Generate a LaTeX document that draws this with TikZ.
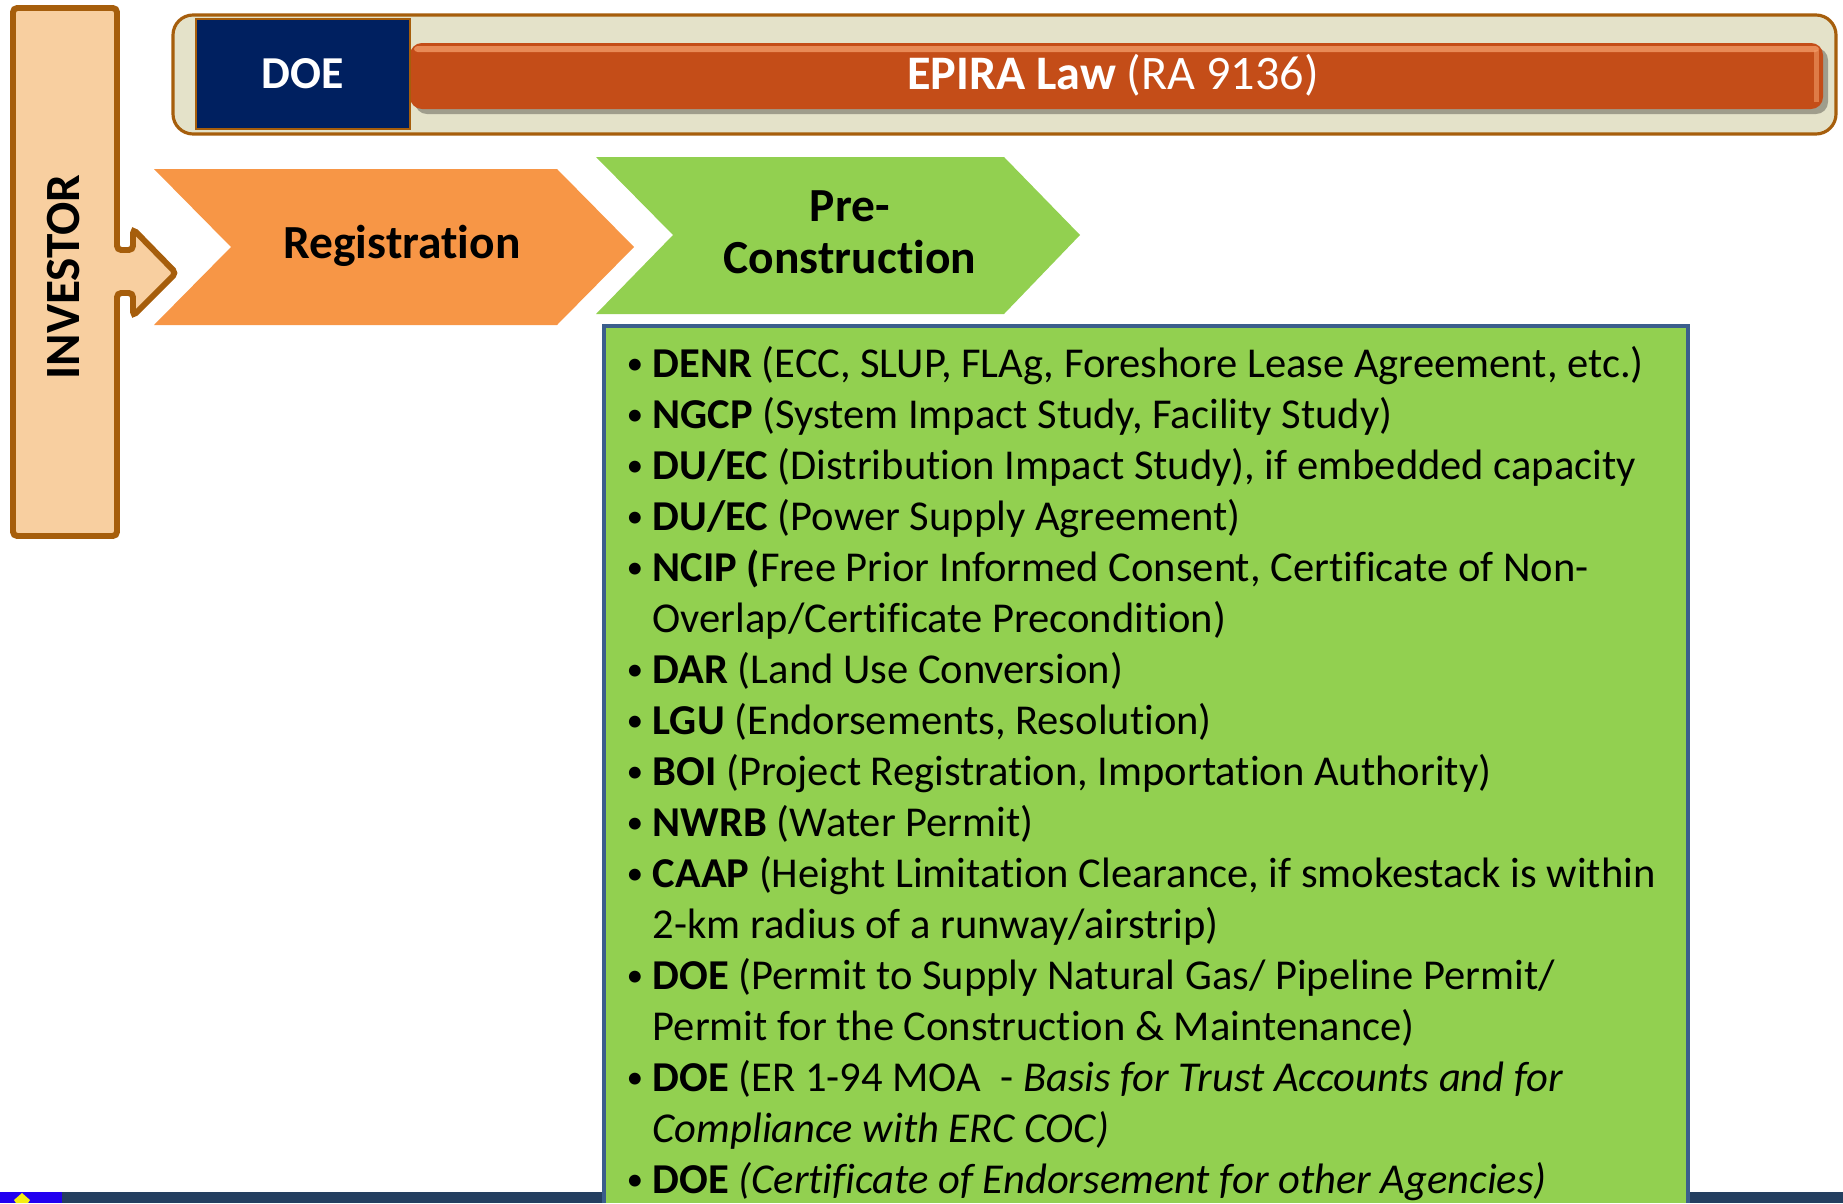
\documentclass[tikz,border=0pt]{standalone}
\usepackage{fontspec}
\setmainfont{Carlito}[RawFeature={-liga;-clig;-calt}]
\definecolor{brownline}{HTML}{A65E0C}
\definecolor{peach}{HTML}{F8CFA0}
\definecolor{beige}{HTML}{E4E2C9}
\definecolor{navy}{HTML}{002060}
\definecolor{rust}{HTML}{C44D18}
\definecolor{rustlight}{HTML}{F29A66}
\definecolor{orangestep}{HTML}{F79646}
\definecolor{greenstep}{HTML}{92D050}
\definecolor{boxblue}{HTML}{3B5E8C}
\definecolor{barnavy}{HTML}{243F60}
\definecolor{logoblue}{HTML}{2200F0}
\definecolor{logoyellow}{HTML}{F5EE10}
\begin{document}
\begin{tikzpicture}[x=0.01cm,y=-0.01cm,
    investor/.style={draw=brownline,fill=peach,line width=1.7pt,rounded corners=1.2pt},
    steptext/.style={font=\fontsize{13.5}{14.8}\selectfont\bfseries,align=center,inner sep=0pt},
    listline/.style={anchor=base west,inner sep=0pt,font=\fontsize{12.1}{14.5}\selectfont},
    dot/.style={anchor=base west,inner sep=0pt,font=\fontsize{9.5}{10}\selectfont}]
    \useasboundingbox (0,0) rectangle (1843,1203);

    % bottom strip
    \fill[barnavy] (0,1192) rectangle (1843,1203);
    \fill[logoblue] (0,1192) rectangle (62,1203);
    \fill[logoyellow] (22,1193) -- (30,1200) -- (28,1203) -- (16,1203) -- (14,1200) -- cycle;

    % investor column with its arrow
    \draw[investor] (13,8) -- (117,8) -- (117,250) -- (133,250) -- (133,229)
        -- (176,273) -- (133,316) -- (133,293) -- (117,293) -- (117,536)
        -- (13,536) -- cycle;
    \node[rotate=90,font=\fontsize{14}{16}\selectfont\bfseries] (investor)
        at (64,277) {INVESTOR};

    % law banner
    \draw[draw=brownline,fill=beige,line width=0.9pt,rounded corners=5.7pt]
        (173,15) rectangle (1836,134);
    \fill[black,opacity=0.3,rounded corners=3.4pt] (415,48) rectangle (1828,114);
    \fill[rust,rounded corners=3.4pt] (410,43) rectangle (1823,109);
    \fill[rustlight,opacity=0.8,rounded corners=1pt] (414,46) rectangle (1819,52);
    \fill[rustlight,opacity=0.6] (1814,50) rectangle (1819,102);
    \node[draw=brownline,fill=navy,line width=0.6pt,minimum width=2.14cm,
        minimum height=1.10cm,text=white,font=\fontsize{13}{15}\selectfont\bfseries]
        (doe) at (303,74) {DOE};
    \node[text=white,font=\fontsize{13.7}{16}\selectfont] (epira)
        at (1113,75) {\textbf{EPIRA Law} (RA 9136)};

    % steps
    \fill[orangestep] (154,169) -- (557,169) -- (634,247) -- (557,325)
        -- (154,325) -- (231,247) -- cycle;
    \node[steptext] (registration) at (402,246) {Registration};
    \fill[greenstep] (596,157) -- (1004,157) -- (1080,235) -- (1004,314)
        -- (596,314) -- (673,235) -- cycle;
    \node[steptext] (precon) at (850,232) {Pre-\\Construction};

    % requirements box
    \fill[greenstep] (604,326) rectangle (1688,1203);
    \draw[boxblue,line width=1.3pt] (604,1203) -- (604,326) -- (1688,326) -- (1688,1203);

    \node[dot] (b1) at (626,374) {\textbullet};
    \node[listline] (l1) at (652,377) {\textbf{DENR} (ECC, SLUP, FLAg, Foreshore Lease Agreement, etc.)};
    \node[dot] (b2) at (626,425) {\textbullet};
    \node[listline] (l2) at (652,428) {\textbf{NGCP} (System Impact Study, Facility Study)};
    \node[dot] (b3) at (626,476) {\textbullet};
    \node[listline] (l3) at (652,479) {\textbf{DU/EC} (Distribution Impact Study), if embedded capacity};
    \node[dot] (b4) at (626,527) {\textbullet};
    \node[listline] (l4) at (652,530) {\textbf{DU/EC} (Power Supply Agreement)};
    \node[dot] (b5) at (626,578) {\textbullet};
    \node[listline] (l5) at (652,581) {\textbf{NCIP (}Free Prior Informed Consent, Certificate of Non-};
    \node[listline] (l6) at (652,632) {Overlap/Certificate Precondition)};
    \node[dot] (b7) at (626,680) {\textbullet};
    \node[listline] (l7) at (652,683) {\textbf{DAR} (Land Use Conversion)};
    \node[dot] (b8) at (626,731) {\textbullet};
    \node[listline] (l8) at (652,734) {\textbf{LGU} (Endorsements, Resolution)};
    \node[dot] (b9) at (626,782) {\textbullet};
    \node[listline] (l9) at (652,785) {\textbf{BOI} (Project Registration, Importation Authority)};
    \node[dot] (b10) at (626,833) {\textbullet};
    \node[listline] (l10) at (652,836) {\textbf{NWRB} (Water Permit)};
    \node[dot] (b11) at (626,884) {\textbullet};
    \node[listline] (l11) at (652,887) {\textbf{CAAP} (Height Limitation Clearance, if smokestack is within};
    \node[listline] (l12) at (652,938) {2-km radius of a runway/airstrip)};
    \node[dot] (b13) at (626,986) {\textbullet};
    \node[listline] (l13) at (652,989) {\textbf{DOE} (Permit to Supply Natural Gas/ Pipeline Permit/};
    \node[listline] (l14) at (652,1040) {Permit for the Construction \& Maintenance)};
    \node[dot] (b15) at (626,1088) {\textbullet};
    \node[listline] (l15) at (652,1091) {\textbf{DOE} (ER 1-94 MOA\ \ - \textit{Basis for Trust Accounts and for}};
    \node[listline] (l16) at (652,1142) {\textit{Compliance with ERC COC)}};
    \node[dot] (b17) at (626,1190) {\textbullet};
    \node[listline] (l17) at (652,1193) {\textbf{DOE} \textit{(Certificate of Endorsement for other Agencies)}};
\end{tikzpicture}
\end{document}
